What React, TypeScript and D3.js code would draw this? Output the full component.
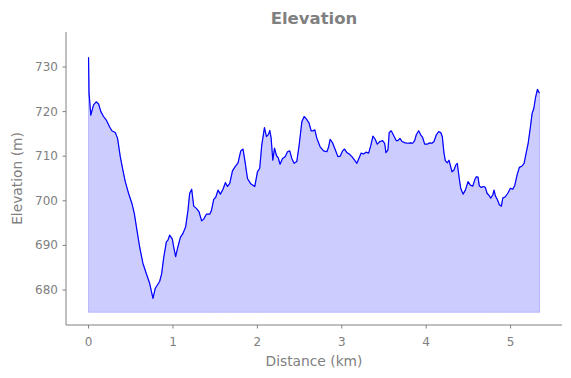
import React from "react";
import * as d3 from "d3";

const distanceKm: number[] = [
  0, 0.006, 0.027, 0.059, 0.091, 0.119, 0.146, 0.178, 0.21, 0.249, 0.276, 0.317, 0.344, 0.376, 0.407, 0.435,
  0.474, 0.514, 0.542, 0.573, 0.605, 0.644, 0.684, 0.724, 0.763, 0.791, 0.842, 0.866, 0.89, 0.922, 0.941,
  0.961, 0.993, 1.008, 1.032, 1.059, 1.088, 1.119, 1.151, 1.178, 1.198, 1.222, 1.246, 1.278, 1.308, 1.34,
  1.364, 1.396, 1.435, 1.456, 1.483, 1.507, 1.534, 1.562, 1.593, 1.622, 1.645, 1.673, 1.705, 1.735, 1.771,
  1.803, 1.83, 1.854, 1.883, 1.922, 1.969, 2.001, 2.028, 2.052, 2.084, 2.108, 2.132, 2.147, 2.163, 2.183,
  2.203, 2.227, 2.246, 2.269, 2.298, 2.329, 2.357, 2.384, 2.408, 2.435, 2.467, 2.495, 2.527, 2.554, 2.582,
  2.613, 2.637, 2.661, 2.681, 2.705, 2.744, 2.784, 2.823, 2.843, 2.862, 2.891, 2.922, 2.954, 2.981, 3.01,
  3.033, 3.061, 3.088, 3.12, 3.152, 3.179, 3.199, 3.23, 3.259, 3.286, 3.318, 3.345, 3.369, 3.396, 3.42,
  3.452, 3.484, 3.508, 3.523, 3.547, 3.562, 3.586, 3.61, 3.645, 3.665, 3.689, 3.713, 3.752, 3.784, 3.816,
  3.84, 3.863, 3.883, 3.911, 3.935, 3.958, 3.982, 4.013, 4.041, 4.069, 4.093, 4.12, 4.148, 4.172, 4.191,
  4.211, 4.227, 4.25, 4.27, 4.291, 4.306, 4.33, 4.35, 4.369, 4.389, 4.409, 4.437, 4.464, 4.496, 4.523,
  4.552, 4.575, 4.594, 4.614, 4.63, 4.654, 4.682, 4.701, 4.721, 4.741, 4.765, 4.789, 4.804, 4.82, 4.843,
  4.867, 4.891, 4.907, 4.938, 4.97, 4.998, 5.026, 5.05, 5.077, 5.104, 5.136, 5.16, 5.184, 5.208, 5.235,
  5.255, 5.275, 5.294, 5.318, 5.342,
];

const elevationM: number[] = [
  732.2, 724.2, 719.2, 721.5, 722.2, 721.7, 720.0, 718.9, 718.1, 716.6, 715.7, 715.3, 714.0, 709.9, 706.9, 704.3,
  701.7, 699.4, 697.2, 693.5, 689.7, 686.0, 683.7, 681.5, 678.1, 680.4, 681.9, 683.6, 687.2, 690.8, 691.2,
  692.3, 691.4, 689.7, 687.5, 689.7, 691.8, 692.7, 694.2, 697.9, 701.7, 702.6, 698.8, 698.3, 697.6, 695.5,
  695.9, 697.0, 697.0, 697.8, 700.3, 700.8, 702.4, 701.5, 702.6, 704.1, 703.2, 703.9, 706.7, 707.6, 708.5,
  711.2, 711.6, 708.8, 705.0, 703.8, 703.2, 706.5, 707.3, 712.5, 716.4, 714.4, 714.9, 715.8, 714.1, 709.1,
  711.8, 710.1, 709.7, 708.2, 709.5, 709.9, 711.0, 711.2, 709.5, 708.4, 708.8, 712.5, 717.7, 718.9, 718.3,
  717.4, 715.7, 715.7, 715.9, 714.0, 712.1, 711.2, 711.0, 712.0, 713.8, 713.0, 711.5, 709.9, 710.0, 711.2,
  711.6, 710.8, 710.5, 709.9, 709.1, 708.4, 709.3, 710.7, 710.5, 710.9, 710.7, 712.5, 714.5, 713.8, 712.7,
  713.3, 713.5, 712.9, 710.8, 711.4, 715.3, 715.7, 714.8, 713.5, 713.5, 714.0, 713.3, 713.0, 712.9, 713.0,
  712.9, 713.5, 714.8, 715.7, 714.8, 714.2, 712.7, 712.7, 713.0, 712.9, 713.3, 714.8, 715.5, 715.3, 714.4,
  710.7, 709.0, 708.5, 709.1, 707.6, 706.5, 706.9, 708.0, 708.4, 705.4, 702.8, 701.5, 702.4, 704.3, 703.5,
  703.3, 704.7, 705.4, 705.3, 703.3, 703.0, 703.2, 703.0, 701.7, 701.3, 700.6, 701.3, 702.4, 701.1, 700.3,
  699.1, 698.8, 700.6, 700.9, 701.8, 702.8, 702.6, 703.5, 705.8, 707.5, 707.8, 708.4, 710.7, 712.9, 716.6,
  719.6, 720.7, 723.0, 725.0, 724.1,
];

const xTicks: number[] = [0, 1, 2, 3, 4, 5];
const yTicks: number[] = [680, 690, 700, 710, 720, 730];
const fillBase = 675;
const titleText = "Elevation";
const xLabelText = "Distance (km)";
const yLabelText = "Elevation (m)";

const W = 571;
const H = 378;
const left = 66;
const right = 562;
const top = 32;
const bottom = 325;
const gray = "#808080";
const font = "DejaVu Sans, sans-serif";

export default function App() {
  const x = d3.scaleLinear().domain([-0.267, 5.609]).range([left, right]);
  const y = d3.scaleLinear().domain([680, 730]).range([290, 67]);
  const pts = distanceKm.map((d, i) => [d, elevationM[i]] as [number, number]);
  const line = d3
    .line<[number, number]>()
    .x((p) => x(p[0]))
    .y((p) => y(p[1]));
  const area = d3
    .area<[number, number]>()
    .x((p) => x(p[0]))
    .y0(y(fillBase))
    .y1((p) => y(p[1]));

  return (
    <svg
      width={W}
      height={H}
      style={{ position: "absolute", left: 0, top: 0, background: "#fff" }}
      fontFamily={font}
    >
      <rect width={W} height={H} fill="#fff" />
      <path d={area(pts) || ""} fill="rgb(204,204,255)" stroke="rgba(0,0,255,0.2)" strokeWidth={1} />
      <path d={line(pts) || ""} fill="none" stroke="#0000ff" strokeWidth={1.2} strokeLinejoin="round" />
      <line x1={left} x2={left} y1={top} y2={bottom} stroke={gray} strokeWidth={1} />
      <line x1={left} x2={right} y1={bottom} y2={bottom} stroke={gray} strokeWidth={1} />
      {xTicks.map((t) => (
        <g key={"x" + t}>
          <line x1={x(t)} x2={x(t)} y1={bottom} y2={bottom + 3.5} stroke={gray} />
          <text x={x(t)} y={bottom + 16.5} textAnchor="middle" dominantBaseline="central" fontSize={12} fill={gray}>
            {t}
          </text>
        </g>
      ))}
      {yTicks.map((t) => (
        <g key={"y" + t}>
          <line x1={left - 3.5} x2={left} y1={y(t)} y2={y(t)} stroke={gray} />
          <text x={left - 8} y={y(t)} textAnchor="end" dominantBaseline="central" fontSize={12} fill={gray}>
            {t}
          </text>
        </g>
      ))}
      <text x={(left + right) / 2} y={361} textAnchor="middle" dominantBaseline="central" fontSize={13.8} fill={gray}>
        {xLabelText}
      </text>
      <text
        transform={`translate(17,${(top + bottom) / 2}) rotate(-90)`}
        textAnchor="middle"
        dominantBaseline="central"
        fontSize={13.8}
        fill={gray}
      >
        {yLabelText}
      </text>
      <text x={(left + right) / 2} y={18} textAnchor="middle" dominantBaseline="central" fontSize={16.5} fontWeight="bold" fill={gray}>
        {titleText}
      </text>
    </svg>
  );
}
